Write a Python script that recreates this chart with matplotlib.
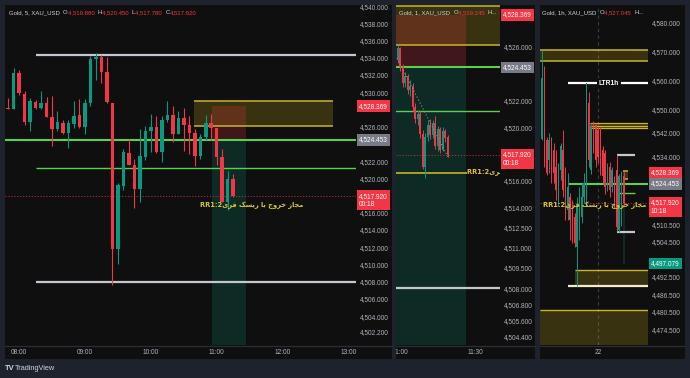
import numpy as np
import matplotlib
matplotlib.use("Agg")
import matplotlib.pyplot as plt
from matplotlib.patches import Rectangle
from matplotlib.lines import Line2D
from matplotlib.transforms import blended_transform_factory, Bbox, TransformedBbox

# ---------------------------------------------------------------- data
# 5-minute candles, first bar 07:50, step 5 min
m5_first_min = 7 * 60 + 50
m5_open = [4528.2, 4528.07, 4532.2, 4529.8, 4526.5, 4528.9, 4528.2, 4528.8, 4527.1, 4525.7,
           4526.4, 4525.3, 4526.3, 4527.3, 4526.0, 4528.8, 4533.8, 4534.1, 4532.4, 4528.8,
           4511.8, 4519.1, 4522.9, 4521.6, 4518.8, 4522.5, 4525.5, 4526.0, 4523.1, 4526.8,
           4527.3, 4525.2, 4527.0, 4526.2, 4525.3, 4522.6, 4524.8, 4526.4, 4525.8, 4522.5,
           4517.3, 4519.88]
m5_high = [4529.3, 4532.8, 4532.6, 4530.1, 4529.3, 4529.1, 4530.1, 4529.4, 4529.6, 4527.8,
           4526.8, 4526.8, 4529.0, 4529.2, 4529.2, 4534.2, 4534.5, 4534.3, 4534.1, 4528.8,
           4519.5, 4523.4, 4524.6, 4522.2, 4525.7, 4526.1, 4527.5, 4527.2, 4527.2, 4529.0,
           4528.4, 4527.8, 4528.2, 4527.2, 4525.7, 4525.1, 4527.4, 4527.5, 4525.8, 4523.4,
           4520.9, 4520.45]
m5_low = [4528.0, 4528.0, 4529.7, 4526.2, 4525.5, 4528.1, 4528.1, 4527.1, 4523.8, 4525.5,
          4525.2, 4523.5, 4525.9, 4525.8, 4525.1, 4528.4, 4531.4, 4531.1, 4528.8, 4507.6,
          4510.1, 4518.6, 4521.5, 4516.6, 4517.3, 4522.1, 4523.0, 4522.9, 4521.9, 4526.5,
          4524.2, 4525.1, 4523.2, 4522.8, 4521.4, 4522.2, 4524.4, 4524.4, 4521.5, 4517.3,
          4516.3, 4517.78]
m5_close = [4528.1, 4532.2, 4529.9, 4526.5, 4529.0, 4528.2, 4528.8, 4527.1, 4525.7, 4526.5,
            4525.3, 4526.4, 4527.2, 4526.0, 4528.7, 4533.8, 4534.1, 4532.4, 4528.9, 4511.8,
            4519.2, 4523.0, 4521.6, 4518.8, 4522.6, 4525.5, 4526.0, 4523.1, 4526.8, 4527.4,
            4525.2, 4527.0, 4526.2, 4525.3, 4522.6, 4524.8, 4526.4, 4525.8, 4522.5, 4517.3,
            4519.9, 4517.92]

# 1-minute candles, first bar 10:59, step 1 min
m1_first_min = 10 * 60 + 59
m1_open = [4525.0, 4525.9, 4524.5, 4523.3, 4523.8, 4522.8, 4523.1, 4521.5, 4520.6, 4521.0,
           4519.5, 4517.0, 4519.3, 4520.2, 4519.4, 4520.3, 4518.6, 4519.9, 4518.3, 4519.7,
           4519.245]
m1_high = [4526.1, 4526.0, 4524.7, 4524.1, 4524.0, 4523.5, 4523.3, 4521.8, 4521.3, 4521.2,
           4519.8, 4519.6, 4520.5, 4520.6, 4520.5, 4520.8, 4520.1, 4520.0, 4520.0, 4519.9,
           4519.4]
m1_low = [4524.8, 4524.2, 4523.0, 4523.0, 4522.5, 4522.3, 4521.2, 4520.3, 4520.2, 4519.2,
          4516.9, 4516.2, 4519.0, 4519.1, 4519.2, 4518.4, 4518.2, 4518.1, 4518.2, 4518.9,
          4517.8]
m1_close = [4525.9, 4524.5, 4523.3, 4523.8, 4522.8, 4523.1, 4521.5, 4520.6, 4521.0, 4519.5,
            4517.0, 4519.3, 4520.2, 4519.4, 4520.3, 4518.6, 4519.9, 4518.3, 4519.7, 4519.2,
            4517.92]

# 1-hour candles, first bar 21st 00:00 (hour -24 relative to the 22nd)
h1_first_hour = -24
h1_open = [4540.0, 4560.8, 4539.6, 4532.7, 4539.6, 4536.1, 4530.4, 4519.0, 4529.3, 4536.1,
           4525.8, 4515.5, 4520.1, 4516.7, 4513.2, 4502.9, 4509.8, 4513.2, 4520.1, 4517.8,
           4552.2, 4529.3, 4545.3, 4544.7, 4543.0, 4543.0, 4536.1, 4535.0, 4523.5, 4530.4,
           4523.5, 4524.7, 4529.3, 4508.6, 4512.1, 4527.045]
h1_high = [4570.5, 4564.8, 4540.7, 4541.9, 4540.7, 4538.4, 4536.1, 4531.6, 4538.4, 4543.0,
           4530.4, 4528.1, 4521.3, 4519.0, 4514.4, 4520.1, 4523.5, 4524.7, 4528.1, 4559.0,
           4556.0, 4545.3, 4546.0, 4545.5, 4544.0, 4544.1, 4537.3, 4536.1, 4531.6, 4532.0,
           4530.4, 4527.0, 4534.4, 4528.0, 4529.0, 4528.5]
h1_low = [4539.6, 4530.4, 4527.5, 4528.1, 4524.7, 4524.7, 4519.0, 4516.7, 4525.8, 4520.1,
          4512.1, 4512.1, 4505.2, 4504.1, 4502.9, 4489.2, 4505.2, 4510.9, 4517.8, 4516.7,
          4530.4, 4528.0, 4535.0, 4530.4, 4531.6, 4527.5, 4524.7, 4521.0, 4522.0, 4520.0,
          4521.5, 4516.0, 4508.1, 4507.8, 4510.0, 4517.0]
h1_close = [4560.8, 4532.7, 4528.1, 4539.6, 4529.3, 4528.1, 4522.4, 4529.3, 4537.3, 4522.4,
            4515.5, 4523.5, 4512.1, 4505.2, 4504.1, 4516.7, 4521.3, 4520.1, 4524.7, 4559.0,
            4532.7, 4544.1, 4537.3, 4532.7, 4533.8, 4529.2, 4527.0, 4523.5, 4529.2, 4522.4,
            4529.2, 4518.9, 4509.8, 4527.0, 4527.5, 4517.92]

# key price levels
last_price = 4517.92
stop_price = 4528.369
entry_price = 4524.453
target_price = 4497.079
rr_level = 4516.6

# axis ticks
p1_yticks = [4540, 4538, 4536, 4534, 4532, 4530, 4526, 4522, 4520, 4516, 4514, 4512, 4510,
             4508, 4506, 4504, 4502.2]
p2_yticks = [4526, 4522, 4520, 4516, 4514, 4512.5, 4511, 4509.5, 4508, 4506.8, 4505.6, 4504.4]
p3_yticks = [4580, 4570, 4560, 4550, 4542, 4534, 4510.5, 4504.5, 4498.5, 4492.5, 4486.5,
             4480.5, 4474.5]
p1_xticklabels = ["08:00", "09:00", "10:00", "11:00", "12:00", "13:00"]
p2_xticklabels = ["11:00", "11:30"]
p3_xticklabels = ["22"]

# ---------------------------------------------------------------- style
W, H = 690, 378
FIG_BG = '#1e222d'
BG = '#0f0f0f'
TXT = '#b2b5be'
UP = '#089981'
DN = '#f23645'
YEL = '#c9b52a'
GRN = '#5ccf4f'
GRAYLINE = '#c4c7cf'
FS = 4.7
plt.rcParams['font.family'] = ['Liberation Sans', 'DejaVu Sans']

fig = plt.figure(figsize=(W / 100, H / 100), dpi=100)
fig.patch.set_facecolor(FIG_BG)


def hm(s):
    h, m = s.split(':')
    return int(h) * 60 + int(m)


def make_panel(x0, x1, xr, xlim, ylim, yticks, xticks, xticklabels):
    fig.add_artist(Rectangle((x0 / W, 1 - 359 / H), (xr - x0) / W, 354 / H,
                             transform=fig.transFigure, fc=BG, ec='none', zorder=-5))
    fig.add_artist(Line2D([x0 / W, xr / W], [1 - 345.5 / H] * 2, transform=fig.transFigure,
                          color='#2a2e39', lw=0.9, zorder=5))
    ax = fig.add_axes([x0 / W, 1 - 345 / H, (x1 - x0) / W, 340 / H])
    ax.patch.set_visible(False)
    for s in ax.spines.values():
        s.set_visible(False)
    ax.set_xlim(*xlim)
    ax.set_ylim(*ylim)
    ax.yaxis.tick_right()
    ax.set_yticks(yticks)
    ax.set_yticklabels([f"{v:,.3f}" for v in yticks])
    ax.set_xticks(xticks)
    ax.set_xticklabels(xticklabels)
    ax.tick_params(axis='y', length=0, pad=2.9, labelsize=FS, labelcolor=TXT)
    ax.tick_params(axis='x', length=0, pad=3.0, labelsize=FS, labelcolor=TXT)
    clip = TransformedBbox(Bbox.from_extents(x0 / W, 1 - 359 / H, xr / W, 1 - 5 / H),
                           fig.transFigure)
    for t in ax.get_yticklabels() + ax.get_xticklabels():
        t.set_clip_box(clip)
        t.set_clip_on(True)
    return ax


def draw_candles(ax, t, o, h, l, c, width, minh, lw=0.8):
    o, h, l, c = (np.asarray(a, float) for a in (o, h, l, c))
    cols = np.where(c >= o, UP, DN)
    ax.vlines(t, l, h, colors=cols, lw=lw, zorder=3)
    ax.bar(t, np.maximum(np.abs(c - o), minh), bottom=np.minimum(o, c), width=width,
           color=cols, lw=0, zorder=4)


def box(ax, t0, t1, p0, p1, fc, z=1):
    ax.add_patch(Rectangle((t0, p0), t1 - t0, p1 - p0, fc=fc, ec='none', zorder=z))


def price_label(ax, p, text, fc, two=False):
    tr = blended_transform_factory(ax.transAxes, ax.transData)
    ax.annotate(text, xy=(1, p), xycoords=tr, xytext=(3, 3.6 if two else 0),
                textcoords='offset pixels', ha='left', va='top' if two else 'center',
                color='white', fontsize=FS, linespacing=1.25,
                bbox=dict(boxstyle='square,pad=0.35', fc=fc, ec='none'),
                annotation_clip=False, zorder=20)


def shared(ax):
    yb_t0, yb_t1 = hm("10:39") + 0.5, hm("12:46")
    pos_t0, pos_t1 = hm("10:55") + 0.3, hm("11:26") + 0.5
    box(ax, yb_t0, yb_t1, 4526.1, 4529.0, (0.80, 0.70, 0.10, 0.22))
    ax.hlines([4526.1, 4529.0], yb_t0, yb_t1, colors=YEL, lw=1.1, zorder=2)
    box(ax, pos_t0, pos_t1, entry_price, stop_price, (0.95, 0.21, 0.27, 0.22))
    box(ax, pos_t0, pos_t1, target_price, entry_price, (0.03, 0.60, 0.50, 0.20))
    ax.hlines([4534.3, 4508.0], hm("08:15"), hm("15:53"), colors=GRAYLINE, lw=1.6, zorder=2)
    ax.hlines(4521.2, hm("08:15"), hm("16:00"), colors=GRN, lw=1.0, zorder=2)
    ax.hlines(entry_price, -772, 2000, colors=GRN, lw=1.5, zorder=2)
    ax.axhline(last_price, color=DN, lw=0.6, ls=(0, (1.5, 2)), alpha=0.8, zorder=2)


def rich(x_px, y_px, parts, fs=4.3):
    r = fig.canvas.get_renderer()
    x = x_px
    for s, col in parts:
        t = fig.text(x / W, 1 - y_px / H, s, color=col, fontsize=fs, va='center', ha='left',
                     zorder=30)
        x += t.get_window_extent(renderer=r).width


# Persian note, written in visual (left-to-right) order with joined letter forms
RR_TEXT = ("RR1:2" + "\uFBFC\uFEAE\uFED3" + " " + "\uFB8F\uFEB4\uFBFE\uFEAD" + " " +
           "\uFE8E\uFE91" + " " + "\uFE9D\uFEED\uFEAE\uFEA7" + " " + "\uFEAF\uFE8E\uFEA0\uFEE3")
RR_COL = '#d9c62e'

# ---------------------------------------------------------------- panel 1 (5 min)
t5 = m5_first_min + 5 * np.arange(len(m5_open))
ax1 = make_panel(5, 356, 392, (467.2, 786.8), (4500.64, 4540.13), p1_yticks,
                 [hm(s) for s in p1_xticklabels], p1_xticklabels)
shared(ax1)
draw_candles(ax1, t5, m5_open, m5_high, m5_low, m5_close, 3.2, 0.12)
ax1.text(644.4, 4516.9, RR_TEXT, color=RR_COL, fontsize=4.8, fontweight='bold', va='center',
         ha='left', family=['DejaVu Sans'], zorder=6, clip_on=True)
price_label(ax1, stop_price, "4,528.369", DN)
price_label(ax1, entry_price, "4,524.453", '#787b86')
price_label(ax1, last_price, "4,517.920\n00:18", DN, two=True)

# ---------------------------------------------------------------- panel 2 (1 min)
t1 = m1_first_min + np.arange(len(m1_open))
ax2 = make_panel(396, 500, 535, (658.4, 700.0), (4503.76, 4529.11), p2_yticks,
                 [hm(s) for s in p2_xticklabels], p2_xticklabels)
shared(ax2)
ax2.hlines(rr_level, 600, 686.8, colors=YEL, lw=1.2, zorder=2)
ax2.plot([658.8, 679.2], [4525.15, 4517.76], color='#8a8d96', lw=0.8, ls=(0, (1, 2)), zorder=5)
draw_candles(ax2, t1, m1_open, m1_high, m1_low, m1_close, 0.7, 0.08, lw=0.7)
ax2.text(686.8, rr_level, RR_TEXT, color=RR_COL, fontsize=4.8, fontweight='bold', va='center',
         ha='left', family=['DejaVu Sans'], zorder=6, clip_on=True)
price_label(ax2, stop_price, "4,528.369", DN)
price_label(ax2, entry_price, "4,524.453", '#787b86')
price_label(ax2, last_price, "4,517.920\n00:18", DN, two=True)

# ---------------------------------------------------------------- panel 3 (1 h)
th = (h1_first_hour + np.arange(len(h1_open))) * 60
ax3 = make_panel(540, 648, 685, (-1493.6, 1287.6), (4469.1, 4585.9), p3_yticks,
                 [0], p3_xticklabels)
ax3.axvline(0, color='#3a3e4a', lw=0.8, ls=(0, (3, 3)), zorder=1)
box(ax3, -1500, 1288, 4566.5, 4570.5, (0.80, 0.70, 0.10, 0.22))
ax3.hlines([4566.5, 4570.5], -1500, 1288, colors=YEL, lw=1.1, zorder=2)
ax3.hlines([4543.6, 4544.4, 4545.5], -206, 1288, colors=YEL, lw=0.9, zorder=2)
box(ax3, -206, 1288, 4543.6, 4545.5, (0.80, 0.70, 0.10, 0.22))
ax3.hlines(4559.0, -772, 1288, colors='white', lw=1.6, zorder=2)
ax3.text(283, 4559.0, "LTR1h", color='white', fontsize=4.8, fontweight='bold', ha='center',
         va='center', zorder=6, bbox=dict(boxstyle='square,pad=0.25', fc=BG, ec='none'))
box(ax3, -592, 1288, 4489.2, 4494.9, (0.80, 0.70, 0.10, 0.22))
ax3.hlines(4494.9, -592, 1288, colors=YEL, lw=1.0, zorder=2)
ax3.hlines(4489.2, -772, 1288, colors='#f2eccb', lw=1.6, zorder=2)
box(ax3, -1500, 1288, 4465.0, 4481.2, (0.80, 0.70, 0.10, 0.22))
ax3.hlines(4481.2, -1500, 1288, colors=YEL, lw=1.0, zorder=2)
shared(ax3)
draw_candles(ax3, th, h1_open, h1_high, h1_low, h1_close, 36, 0.35, lw=0.7)
ax3.text(-1416, 4517.0, RR_TEXT, color=RR_COL, fontsize=4.8, fontweight='bold', va='center',
         ha='left', family=['DejaVu Sans'], zorder=6, clip_on=True)
price_label(ax3, stop_price, "4,528.369", DN)
price_label(ax3, entry_price, "4,524.453", '#787b86')
price_label(ax3, last_price, "4,517.920\n10:18", DN, two=True)
price_label(ax3, target_price, "4,497.079", UP)

# ---------------------------------------------------------------- headers & footer
HD = '#d1d4dc'
rich(9, 12.7, [("Gold, 5, XAU_USD  ", HD), ("O", HD), ("4,519.880  ", DN), ("H", HD),
               ("4,520.450  ", DN), ("L", HD), ("4,517.780  ", DN), ("C", HD),
               ("4,517.920", DN)])
rich(399, 12.7, [("Gold, 1, XAU_USD  ", HD), ("O", HD), ("4,519.245  ", DN), ("H...", HD)])
rich(542, 12.7, [("Gold, 1h, XAU_USD  ", HD), ("O", HD), ("4,527.045  ", DN), ("H...", HD)])

fig.text(5 / W, 1 - 368.5 / H, "TV", color=HD, fontsize=5.5, fontweight='bold', va='center')
fig.text(15 / W, 1 - 368.5 / H, "TradingView", color=HD, fontsize=5.3, va='center')

fig.savefig("out.png", dpi=100, facecolor=FIG_BG)
